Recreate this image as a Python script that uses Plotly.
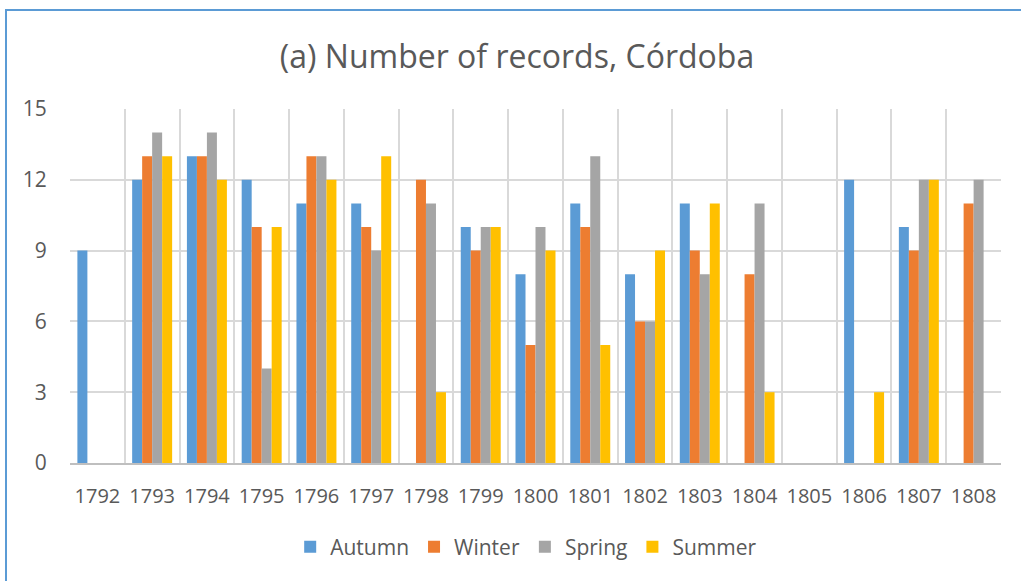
import plotly.graph_objects as go

years = [str(y) for y in range(1792, 1809)]
autumn = [9, 12, 13, 12, 11, 11, 0, 10, 8, 11, 8, 11, 0, 0, 12, 10, 0]
winter = [0, 13, 13, 10, 13, 10, 12, 9, 5, 10, 6, 9, 8, 0, 0, 9, 11]
spring = [0, 14, 14, 4, 13, 9, 11, 10, 10, 13, 6, 8, 11, 0, 0, 12, 12]
summer = [0, 13, 12, 10, 12, 13, 3, 10, 9, 5, 9, 11, 3, 0, 3, 12, 0]

series = [("Autumn", autumn, "#5B9BD5"), ("Winter", winter, "#ED7D31"),
          ("Spring", spring, "#A5A5A5"), ("Summer", summer, "#FFC000")]

FONT = "Open Sans"
TXT = "#595959"

fig = go.Figure()
for name, vals, col in series:
    fig.add_trace(go.Bar(x=years, y=vals, name=name, marker=dict(color=col, line=dict(width=0))))

L, R, T, B = 70, 20, 109, 118
W, H = 1021, 581
pw, ph = W - L - R, H - T - B

fig.update_layout(
    width=W, height=H,
    margin=dict(l=L, r=R, t=T, b=B, pad=0),
    paper_bgcolor="white", plot_bgcolor="white",
    barmode="group", bargap=0.27, bargroupgap=0,
    title=dict(text="(a) Number of records, Córdoba", x=517 / W, xanchor="center",
               y=1 - 57 / H, yanchor="middle", font=dict(family=FONT, size=32, color=TXT)),
    font=dict(family=FONT, color=TXT, size=21),
    legend=dict(orientation="h", x=0.49, xanchor="center", y=-(547 - 463) / ph, yanchor="middle",
                font=dict(family=FONT, size=21, color=TXT), itemwidth=30, traceorder="normal"),
    xaxis=dict(type="category", tickson="boundaries", showgrid=True, gridcolor="#D9D9D9", gridwidth=1.5,
               ticks="", ticklabelstandoff=14, showline=True, linecolor="#BFBFBF",
               linewidth=1.5, mirror=False, tickangle=0,
               tickfont=dict(family=FONT, size=20, color=TXT)),
    yaxis=dict(range=[0, 15], tickvals=[0, 3, 6, 9, 12, 15], showgrid=True, gridcolor="#D9D9D9", gridwidth=1.5,
               zeroline=False, showline=False, ticks="outside", ticklen=18, tickcolor="rgba(0,0,0,0)",
               tickfont=dict(family=FONT, size=21, color=TXT)),
    shapes=[dict(type="rect", xref="paper", yref="paper",
                 x0=(6 - L) / pw, x1=(1040 - L) / pw, y0=-(620 - T - ph) / ph, y1=(T + ph - 10) / ph,
                 line=dict(color="#5B9BD5", width=2), fillcolor="rgba(0,0,0,0)", layer="below")],
)

fig.write_html("out.html", config={"displayModeBar": False},
               post_script="document.body.style.margin='0';document.body.style.overflow='hidden';")
